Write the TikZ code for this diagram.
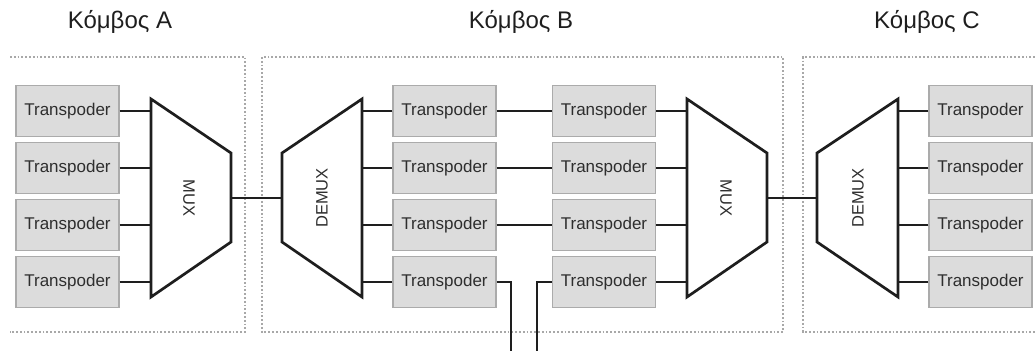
\documentclass[tikz,border=0pt]{standalone}
\usepackage{fontspec}
\setmainfont{Liberation Sans}
\begin{document}
\begin{tikzpicture}[x=1pt,y=-1pt,
  tbox/.style={draw=boxgray,fill=boxfill,line width=1.3pt,minimum width=103pt,minimum height=51pt,inner sep=0pt,font=\fontsize{17}{19}\selectfont,text=txtgray},
  wire/.style={draw=wirecol,line width=2.7pt},
  muxshape/.style={draw=wirecol,line width=2.7pt,line join=miter,fill=white},
  muxlabel/.style={font=\fontsize{16.5}{18}\selectfont,text=txtgray,inner sep=0pt},
  title/.style={font=\fontsize{24}{28}\selectfont,text=titlecol,inner sep=0pt},
  zone/.style={draw=zonegray,line width=1.6pt,dash pattern=on 1.8pt off 2pt}
]
\definecolor{boxgray}{HTML}{ABABAB}
\definecolor{boxfill}{HTML}{DCDCDC}
\definecolor{txtgray}{HTML}{2E2E2E}
\definecolor{wirecol}{HTML}{1E1E1E}
\definecolor{titlecol}{HTML}{1E1E1E}
\definecolor{zonegray}{HTML}{A8A8A8}
\useasboundingbox (0,0) rectangle (1035,351);

% titles
\node[title] (tA) at (120,22) {Κόμβος A};
\node[title] (tB) at (521,22) {Κόμβος B};
\node[title] (tC) at (927,22) {Κόμβος C};

% zones
\draw[zone] (10,57) -- (245,57) -- (245,332) -- (10,332);
\draw[zone] (262,57) rectangle (783,332);
\draw[zone] (1035,57) -- (803,57) -- (803,332) -- (1035,332);

% transponders
\foreach \i/\y in {1/111,2/168,3/225,4/282}{
  \node[tbox] (a\i) at (67.5,\y) {Transpoder};
  \node[tbox] (b\i) at (444.5,\y) {Transpoder};
  \node[tbox] (c\i) at (604,\y) {Transpoder};
  \node[tbox] (d\i) at (980.5,\y) {Transpoder};
}

% mux / demux shapes
\draw[muxshape] (151,99) -- (231,153) -- (231,242) -- (151,297) -- cycle;
\node[muxlabel,rotate=-90] (muxA) at (189,198) {MUX};
\draw[muxshape] (362,99) -- (282,153) -- (282,242) -- (362,297) -- cycle;
\node[muxlabel,rotate=90] (demuxB) at (322,198) {DEMUX};
\draw[muxshape] (687,99) -- (767,153) -- (767,242) -- (687,297) -- cycle;
\node[muxlabel,rotate=-90] (muxB) at (726,198) {MUX};
\draw[muxshape] (898,99) -- (817,153) -- (817,242) -- (898,297) -- cycle;
\node[muxlabel,rotate=90] (demuxC) at (858,198) {DEMUX};

% port coordinates
\coordinate (muxAout) at (231,198);
\coordinate (demuxBin) at (282,198);
\coordinate (muxBout) at (767,198);
\coordinate (demuxCin) at (817,198);
\coordinate (bendL) at (511,282);
\coordinate (bendR) at (537,282);
\coordinate (downL) at (511,351);
\coordinate (downR) at (537,351);

\foreach \i in {1,2,3,4}{
  \draw[wire] (a\i.east) -- ++(32,0);
  \draw[wire] (b\i.west) -- ++(-31,0);
  \draw[wire] (c\i.east) -- ++(31,0);
  \draw[wire] (d\i.west) -- ++(-31,0);
}
\foreach \i in {1,2,3}{
  \draw[wire] (b\i.east) -- (c\i.west);
}
\draw[wire] (muxAout) -- (demuxBin);
\draw[wire] (muxBout) -- (demuxCin);
\draw[wire,line join=miter] (b4.east) -- (bendL) -- (downL);
\draw[wire,line join=miter] (c4.west) -- (bendR) -- (downR);
\end{tikzpicture}
\end{document}
